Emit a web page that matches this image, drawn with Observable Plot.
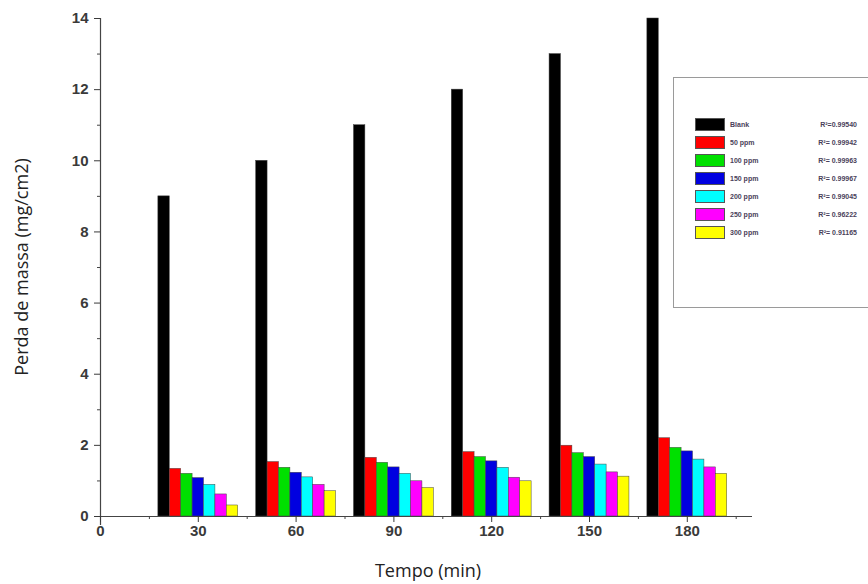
<!DOCTYPE html>
<html><head><meta charset="utf-8">
<script src="https://cdn.jsdelivr.net/npm/d3@7"></script>
<script src="https://cdn.jsdelivr.net/npm/@observablehq/plot@0.6"></script>
<style>
body{margin:0;background:#fff;}
#wrap{position:relative;width:868px;height:584px;overflow:hidden;}
#legend{position:absolute;left:673px;top:77px;width:210px;height:231px;border:1px solid #9a9a9a;box-sizing:border-box;background:#fff;}
.row{position:absolute;left:21px;width:162px;height:14px;font:bold 7px "Liberation Sans",Arial,sans-serif;color:#4a3f5a;}
.sw{position:absolute;left:0;top:0;width:30px;height:13px;box-sizing:border-box;border:1px solid #555;}
.nm{position:absolute;left:35px;top:3px;white-space:nowrap;}
.r2{position:absolute;right:0;top:3px;white-space:nowrap;}
</style>
</head><body><div id="wrap"></div>
<script>
const times = [30, 60, 90, 120, 150, 180];
const series = ["Blank", "50 ppm", "100 ppm", "150 ppm", "200 ppm", "250 ppm", "300 ppm"];
const r2Labels = ["R²=0.99540", "R²= 0.99942", "R²= 0.99963", "R²= 0.99967", "R²= 0.99045", "R²= 0.96222", "R²= 0.91165"];
const colors = ["#000000", "#ff0000", "#00e000", "#0000e0", "#00ffff", "#ff00ff", "#ffff00"];
const blank  = [9, 10, 11, 12, 13, 14];
const ppm50  = [1.34, 1.53, 1.65, 1.81, 1.99, 2.2];
const ppm100 = [1.2, 1.37, 1.51, 1.67, 1.78, 1.93];
const ppm150 = [1.08, 1.23, 1.38, 1.55, 1.67, 1.83];
const ppm200 = [0.89, 1.1, 1.2, 1.37, 1.46, 1.6];
const ppm250 = [0.62, 0.89, 0.99, 1.09, 1.24, 1.38];
const ppm300 = [0.31, 0.71, 0.8, 0.99, 1.12, 1.2];
const xTicks = [0, 30, 60, 90, 120, 150, 180];
const xMinor = [15, 45, 75, 105, 135, 165, 195];
const yTicks = [0, 2, 4, 6, 8, 10, 12, 14];
const yMinor = [1, 3, 5, 7, 9, 11, 13];

const allSeries = [blank, ppm50, ppm100, ppm150, ppm200, ppm250, ppm300];
const barW = 3.5;
const rows = [];
allSeries.forEach((vals, i) => {
  vals.forEach((v, j) => {
    rows.push({series: series[i], idx: i, time: times[j], value: v});
  });
});

const chart = Plot.plot({
  width: 868,
  height: 584,
  marginLeft: 100,
  marginRight: 116,
  marginTop: 18,
  marginBottom: 68,
  style: {background: "transparent", overflow: "visible"},
  x: {domain: [0, 200], label: null},
  y: {domain: [0, 14], label: null},
  color: {domain: series, range: colors},
  marks: [
    Plot.rectY(rows, {
      x1: d => d.time + (d.idx - 3.5) * barW,
      x2: d => d.time + (d.idx - 2.5) * barW,
      y1: 0, y2: "value",
      fill: "series",
      stroke: "#444", strokeWidth: 0.5
    }),
    Plot.ruleY([0], {x1: 0, x2: 200, stroke: "#444", strokeWidth: 1.2}),
    Plot.ruleX([0], {y1: -0.25, y2: 14, stroke: "#444", strokeWidth: 1.2}),
    Plot.axisX({ticks: xTicks, tickSize: 6, tickPadding: 3, tickFormat: d => String(d),
      fontSize: 15, fontWeight: "bold", fontFamily: "Liberation Sans, Arial, sans-serif", color: "#3a3a3a", label: null}),
    Plot.axisX({ticks: xMinor, tickSize: 3, tickFormat: null, text: null, label: null, color: "#444"}),
    Plot.axisY({ticks: yTicks, tickSize: 6, tickPadding: 6, tickFormat: d => String(d),
      fontSize: 15, fontWeight: "bold", fontFamily: "Liberation Sans, Arial, sans-serif", color: "#3a3a3a", label: null}),
    Plot.axisY({ticks: yMinor, tickSize: 3, tickFormat: null, text: null, label: null, color: "#444"})
  ]
});

const svg = d3.select(chart);
svg.append("text")
  .attr("x", 428).attr("y", 577)
  .attr("text-anchor", "middle")
  .style("font", "18px 'Open Sans', sans-serif").style("fill", "#222")
  .text("Tempo (min)");
svg.append("text")
  .attr("transform", "translate(28,267) rotate(-90)")
  .attr("text-anchor", "middle")
  .style("font", "18px 'Open Sans', sans-serif").style("fill", "#222")
  .text("Perda de massa (mg/cm2)");

const wrap = document.getElementById("wrap");
wrap.appendChild(chart);

const legend = document.createElement("div");
legend.id = "legend";
series.forEach((s, i) => {
  const row = document.createElement("div");
  row.className = "row";
  row.style.top = (40 + i * 18) + "px";
  row.innerHTML = `<div class="sw" style="background:${colors[i]}"></div><span class="nm">${s}</span><span class="r2">${r2Labels[i]}</span>`;
  legend.appendChild(row);
});
wrap.appendChild(legend);
</script>
</body></html>
